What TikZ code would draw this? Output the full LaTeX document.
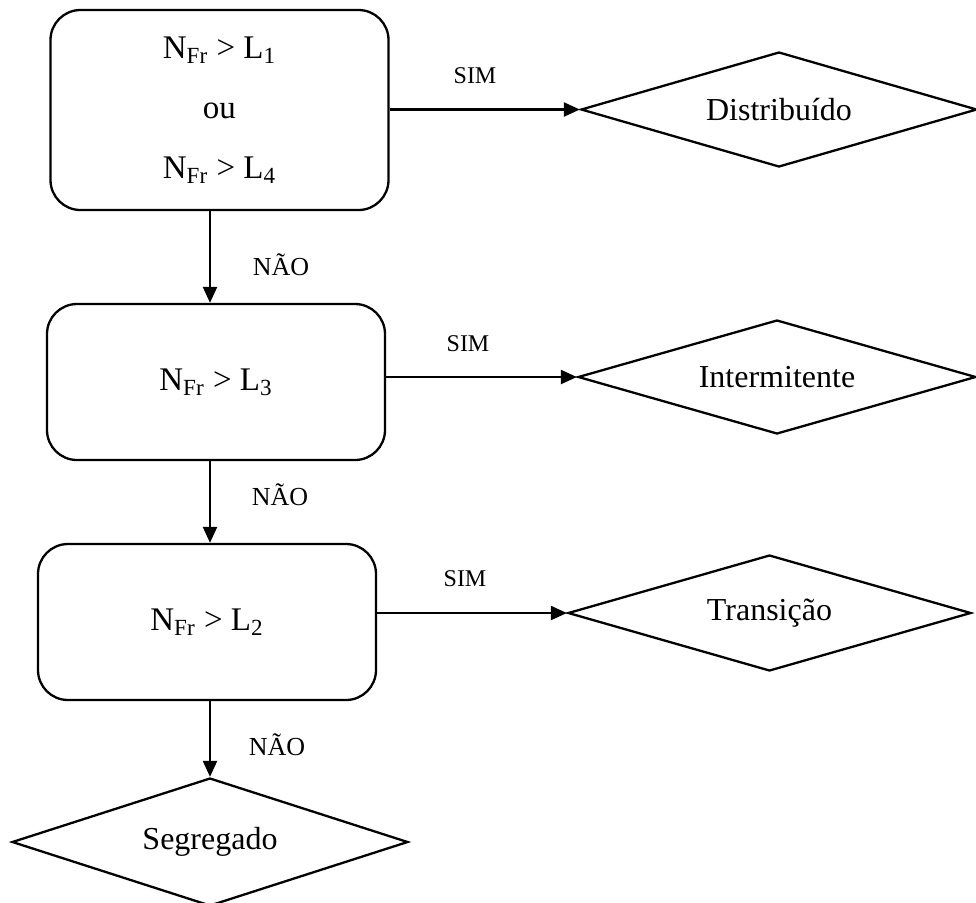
\documentclass[tikz,border=0pt]{standalone}
\usepackage{fontspec}
\setmainfont{Liberation Serif}
\usetikzlibrary{shapes.geometric,arrows.meta}
\begin{document}
\begin{tikzpicture}[x=0.5pt,y=-0.5pt,
  box/.style={draw,line width=1.15pt,rounded corners=15pt,minimum width=169pt,inner sep=0pt,
    font=\fontsize{16.5}{30}\selectfont,align=center},
  dia/.style={draw,line width=1.15pt,diamond,aspect=3.4,inner sep=0pt,
    font=\fontsize{16}{19}\selectfont},
  arr/.style={line width=1.15pt,-{Triangle[length=8pt,width=7pt]}},
  simlbl/.style={font=\fontsize{12}{14}\selectfont,inner sep=0pt},
  naolbl/.style={font=\fontsize{13}{15}\selectfont,inner sep=0pt}]
\useasboundingbox (0,0) rectangle (976,902);
\node[box,minimum height=100pt] (b1) at (219.5,110) {N\textsubscript{Fr} > L\textsubscript{1}\\ou\\N\textsubscript{Fr} > L\textsubscript{4}};
\node[box,minimum height=78pt] (b2) at (216,382) {N\textsubscript{Fr} > L\textsubscript{3}};
\node[box,minimum height=78pt] (b3) at (207,622) {N\textsubscript{Fr} > L\textsubscript{2}};
\node[dia,minimum width=198pt,minimum height=57.5pt] (d1) at (779,109.5) {Distribuído};
\node[dia,minimum width=199pt,minimum height=57pt] (d2) at (777,377) {Intermitente};
\node[dia,minimum width=201.5pt,minimum height=58pt] (d3) at (769.5,613) {Transição};
\node[dia,minimum width=198pt,minimum height=64pt] (d4) at (210,842) {Segregado};
\draw[arr] (d1.west -| b1.east) -- (d1.west);
\draw[arr] (d2.west -| b2.east) -- (d2.west);
\draw[arr] (d3.west -| b3.east) -- (d3.west);
\draw[arr] (b1.south -| d4.north) -- (b2.north -| d4.north);
\draw[arr] (b2.south -| d4.north) -- (b3.north -| d4.north);
\draw[arr] (b3.south -| d4.north) -- (d4.north);
\node[simlbl] (s1) at (475,76) {SIM};
\node[simlbl] (s2) at (468,344) {SIM};
\node[simlbl] (s3) at (465,579) {SIM};
\node[naolbl] (n1) at (281,265) {NÃO};
\node[naolbl] (n2) at (280,495) {NÃO};
\node[naolbl] (n3) at (277,745) {NÃO};
\end{tikzpicture}
\end{document}
